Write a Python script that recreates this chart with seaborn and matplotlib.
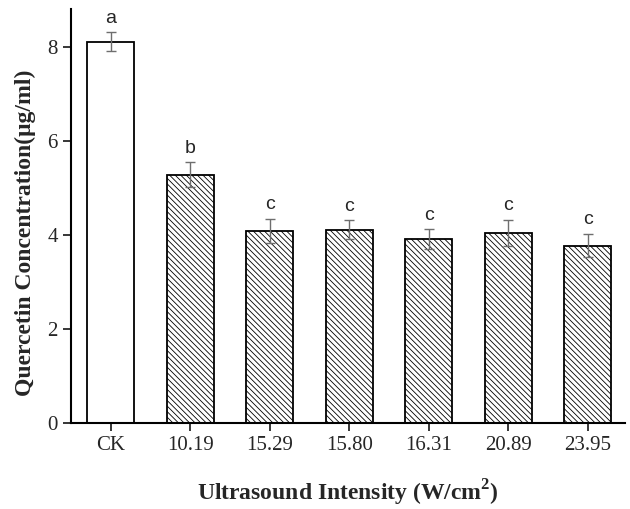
import numpy as np
import pandas as pd
import matplotlib
matplotlib.use("Agg")
import matplotlib.pyplot as plt
import seaborn as sns

# data
intensity = ["CK", "10.19", "15.29", "15.80", "16.31", "20.89", "23.95"]
quercetin = [8.11, 5.28, 4.08, 4.11, 3.91, 4.04, 3.77]
std_err = [0.20, 0.26, 0.26, 0.20, 0.21, 0.28, 0.25]
letters = ["a", "b", "c", "c", "c", "c", "c"]

df = pd.DataFrame({"Intensity": intensity, "Quercetin": quercetin})

sns.set_theme(style="ticks")
plt.rcParams["font.family"] = ["Liberation Serif", "DejaVu Serif"]
plt.rcParams["mathtext.fontset"] = "custom"
plt.rcParams["mathtext.rm"] = "Liberation Serif"
plt.rcParams["mathtext.bf"] = "Liberation Serif:bold"
plt.rcParams["hatch.linewidth"] = 0.6

fig = plt.figure(figsize=(6.3, 5.09), dpi=100)
ax = fig.add_axes([0.113, 0.169, 0.879, 0.813])

sns.barplot(data=df, x="Intensity", y="Quercetin", order=intensity,
            color="white", edgecolor="black", linewidth=1.3,
            width=0.59, errorbar=None, ax=ax)

# hatch all treated bars, keep CK plain
for i, patch in enumerate(ax.patches):
    patch.set_facecolor("white")
    if i > 0:
        patch.set_hatch("\\" * 6)

x = np.arange(len(intensity))
ax.errorbar(x, quercetin, yerr=std_err, fmt="none", ecolor="#6e6e6e",
            elinewidth=1.0, capsize=3.5, capthick=1.0)

for xi, yi, e, lab in zip(x, quercetin, std_err, letters):
    ax.text(xi, yi + e + 0.12, lab, ha="center", va="bottom",
            fontsize=14, family=["Liberation Sans", "DejaVu Sans"])

ax.set_xlim(-0.5, 6.47)
ax.set_ylim(0, 8.8)
ax.set_yticks([0, 2, 4, 6, 8])
ax.tick_params(axis="both", labelsize=15, length=6, width=1.3, direction="out")
ax.set_xlabel("Ultrasound Intensity (W/cm$^{\\mathbf{2}}$)", fontsize=17,
              fontweight="bold", labelpad=16)
ax.set_ylabel("Quercetin Concentration(μg/ml)", fontsize=17,
              fontweight="bold", va="center")
ax.yaxis.set_label_coords(-0.082, 0.46)

sns.despine(ax=ax)
for s in ["left", "bottom"]:
    ax.spines[s].set_linewidth(1.5)
    ax.spines[s].set_color("black")

fig.savefig("out.png", dpi=100)
